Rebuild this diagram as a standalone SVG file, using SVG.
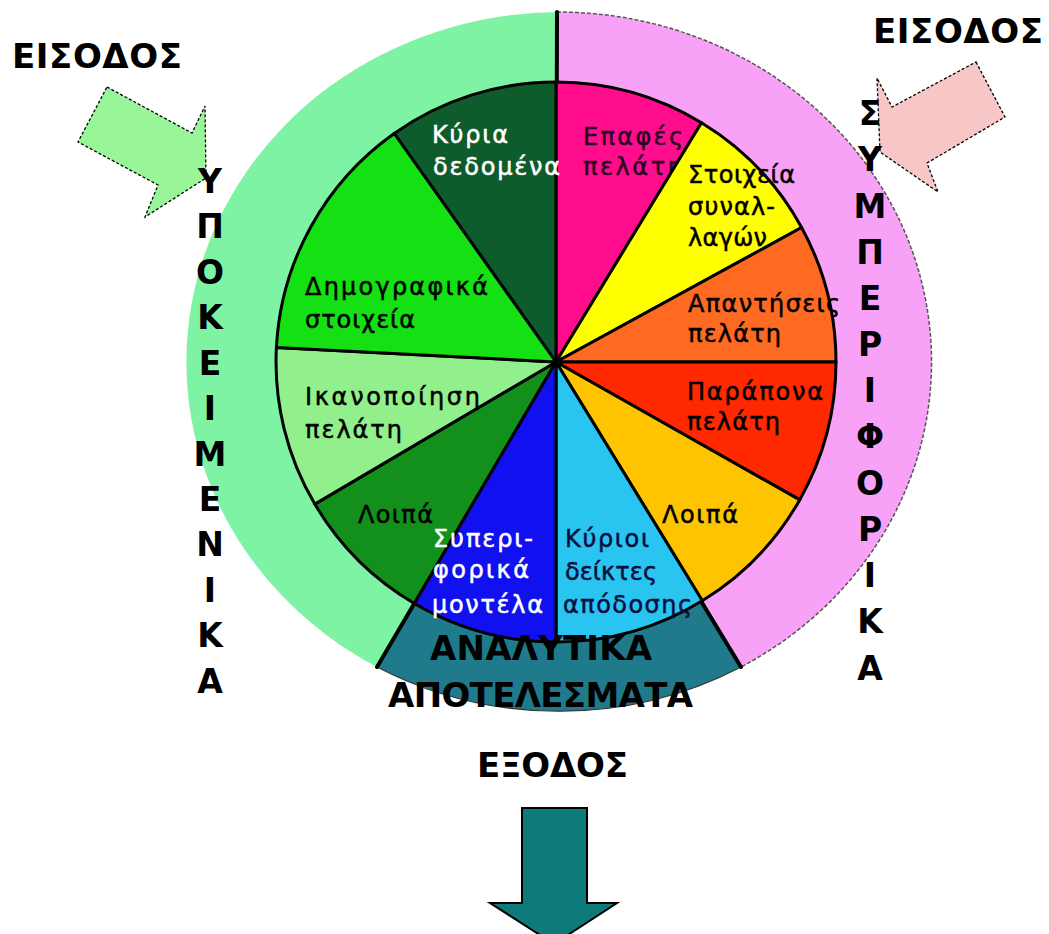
<svg xmlns="http://www.w3.org/2000/svg" width="1049" height="934" viewBox="0 0 1049 934">
  <style>
    .wedge { stroke: #000; stroke-width: 3; stroke-linejoin: round; }
    .lbl { font-family: "DejaVu Sans", Verdana, sans-serif; font-size: 24px; stroke-width: 0.5; }
    .dark { fill: #000; stroke: #000; }
    .light { fill: #fff; stroke: #fff; }
    .big { font-family: "DejaVu Sans", Verdana, sans-serif; font-weight: bold; font-size: 34px; fill: #000; }
    .vert { font-family: "DejaVu Sans", Verdana, sans-serif; font-weight: bold; font-size: 33px; fill: #000; text-anchor: middle; }
    .in-arrow { stroke: #000; stroke-width: 1.3; stroke-dasharray: 3 2; }
  </style>

  <rect width="1049" height="934" fill="#fff"/>

  <!-- outer ring: three sectors of one ellipse -->
  <g id="ring">
    <path id="ring-left" d="M557,362 L557,12 A374,350 0 0 0 377,667 Z" fill="#7ff3a4"/>
    <path id="ring-right" d="M557,362 L557,12 A374,350 0 0 1 741,667 Z" fill="#f8a2f7"/>
    <path d="M557,12 A374,350 0 0 1 741,667" fill="none" stroke="#555" stroke-width="1.5" stroke-dasharray="4 2"/>
    <path id="ring-bottom" d="M556,362 L741,667 A374,350 0 0 1 377,667 Z" fill="#1f7b8c"/>
    <path d="M741,667 A374,350 0 0 1 377,667" fill="none" stroke="#333" stroke-width="1.2"/>
  </g>

  <!-- dividing lines of the ring -->
  <g id="connectors" stroke="#000" stroke-width="4" stroke-linecap="round">
    <line x1="557" y1="12" x2="556" y2="362"/>
    <line x1="556" y1="362" x2="377" y2="667"/>
    <line x1="556" y1="362" x2="741" y2="667"/>
  </g>

  <!-- pie, centre (556,362), r 280 -->
  <g id="w-epafes">
    <path class="wedge" d="M556,362 L556,82 A280,280 0 0 1 701.5,122.7 Z" fill="#ff0d8c"/>
    <text class="lbl" fill="#2a0424" stroke="#2a0424" x="583" y="145" textLength="100">Επαφές</text>
    <text class="lbl" fill="#2a0424" stroke="#2a0424" x="583" y="175" textLength="100">πελάτη</text>
  </g>
  <g id="w-kyria-dedomena">
    <path class="wedge" d="M556,362 L394.2,133.5 A280,280 0 0 1 556,82 Z" fill="#0e5b2c"/>
    <text class="lbl light" x="432" y="143" textLength="76">Κύρια</text>
    <text class="lbl light" x="433" y="175" textLength="127">δεδομένα</text>
  </g>
  <g id="w-synallages">
    <path class="wedge" d="M556,362 L701.5,122.7 A280,280 0 0 1 801.6,227.5 Z" fill="#ffff00"/>
    <text class="lbl dark" x="688" y="183" textLength="107">Στοιχεία</text>
    <text class="lbl dark" x="688" y="215" textLength="87">συναλ-</text>
    <text class="lbl dark" x="688" y="246" textLength="79">λαγών</text>
  </g>
  <g id="w-apantiseis">
    <path class="wedge" d="M556,362 L801.6,227.5 A280,280 0 0 1 836,362 Z" fill="#ff6a22"/>
    <text class="lbl dark" x="688" y="312" textLength="152">Απαντήσεις</text>
    <text class="lbl dark" x="688" y="342" textLength="93">πελάτη</text>
  </g>
  <g id="w-parapona">
    <path class="wedge" d="M556,362 L836,362 A280,280 0 0 1 799.7,499.9 Z" fill="#ff2800"/>
    <text class="lbl dark" x="687" y="400" textLength="136">Παράπονα</text>
    <text class="lbl dark" x="687" y="430" textLength="93">πελάτη</text>
  </g>
  <g id="w-loipa-right">
    <path class="wedge" d="M556,362 L799.7,499.9 A280,280 0 0 1 702.3,600.7 Z" fill="#ffc400"/>
    <text class="lbl dark" x="662" y="523" textLength="76">Λοιπά</text>
  </g>
  <g id="w-deiktes">
    <path class="wedge" d="M556,362 L702.3,600.7 A280,280 0 0 1 556,642 Z" fill="#2ac4f0"/>
    <text class="lbl" fill="#0a1040" stroke="#0a1040" x="565" y="547" textLength="84">Κύριοι</text>
    <text class="lbl" fill="#0a1040" stroke="#0a1040" x="565" y="580" textLength="92">δείκτες</text>
    <text class="lbl" fill="#0a1040" stroke="#0a1040" x="563" y="613" textLength="129">απόδοσης</text>
  </g>
  <g id="w-loipa-left">
    <path class="wedge" d="M556,362 L414.3,603.5 A280,280 0 0 1 314.8,504.1 Z" fill="#138f1c"/>
    <text class="lbl dark" x="358" y="523" textLength="75">Λοιπά</text>
  </g>
  <g id="w-montela">
    <path class="wedge" d="M556,362 L556,642 A280,280 0 0 1 414.3,603.5 Z" fill="#1010f0"/>
    <text class="lbl light" x="433" y="547" textLength="100">Συπερι-</text>
    <text class="lbl light" x="433" y="578" textLength="96">φορικά</text>
    <text class="lbl light" x="432" y="613" textLength="111">μοντέλα</text>
  </g>
  <g id="w-ikanopoiisi">
    <path class="wedge" d="M556,362 L314.8,504.1 A280,280 0 0 1 276.4,347.4 Z" fill="#92f08c"/>
    <text class="lbl dark" x="305" y="405" textLength="175">Ικανοποίηση</text>
    <text class="lbl dark" x="305" y="438" textLength="97">πελάτη</text>
  </g>
  <g id="w-dimografika">
    <path class="wedge" d="M556,362 L276.4,347.4 A280,280 0 0 1 394.2,133.5 Z" fill="#14e014"/>
    <text class="lbl dark" x="305" y="295" textLength="183">Δημογραφικά</text>
    <text class="lbl dark" x="305" y="328" textLength="110">στοιχεία</text>
  </g>

  <!-- output sector caption -->
  <g id="analytika">
    <text class="big" x="430" y="660" textLength="222">ΑΝΑΛΥΤΙΚΑ</text>
    <text class="big" x="388" y="707" textLength="305">ΑΠΟΤΕΛΕΣΜΑΤΑ</text>
  </g>

  <!-- input arrows -->
  <g id="input-left">
    <polygon class="in-arrow" fill="#98f598" points="107,87 192,133 205,106 206,178 145,217 158,185 78,142"/>
    <text class="big" x="12" y="68" textLength="170">ΕΙΣΟΔΟΣ</text>
  </g>
  <g id="input-right">
    <polygon class="in-arrow" fill="#f7c6c6" points="976,62 1005,117 927,163 938,192 880,152 877,78 892,107"/>
    <text class="big" x="873" y="43" textLength="170">ΕΙΣΟΔΟΣ</text>
  </g>

  <!-- vertical captions -->
  <g id="ypokeimenika" class="vert">
    <text x="210" y="193">Υ</text>
    <text x="210" y="238">Π</text>
    <text x="210" y="284">Ο</text>
    <text x="210" y="329">Κ</text>
    <text x="210" y="375">Ε</text>
    <text x="210" y="420">Ι</text>
    <text x="210" y="466">Μ</text>
    <text x="210" y="511">Ε</text>
    <text x="210" y="556">Ν</text>
    <text x="210" y="602">Ι</text>
    <text x="210" y="647">Κ</text>
    <text x="210" y="693">Α</text>
  </g>
  <g id="symperiforika" class="vert">
    <text x="870" y="125">Σ</text>
    <text x="870" y="171">Υ</text>
    <text x="870" y="218">Μ</text>
    <text x="870" y="264">Π</text>
    <text x="870" y="310">Ε</text>
    <text x="870" y="356">Ρ</text>
    <text x="870" y="402">Ι</text>
    <text x="870" y="448">Φ</text>
    <text x="870" y="495">Ο</text>
    <text x="870" y="541">Ρ</text>
    <text x="870" y="587">Ι</text>
    <text x="870" y="633">Κ</text>
    <text x="870" y="680">Α</text>
  </g>

  <!-- output arrow -->
  <g id="output">
    <text class="big" x="477" y="777" textLength="151">ΕΞΟΔΟΣ</text>
    <polygon fill="#0f7a7a" stroke="#000" stroke-width="2" points="522,808 587,808 587,903 617,903 554,944 490,903 522,903"/>
  </g>
</svg>
